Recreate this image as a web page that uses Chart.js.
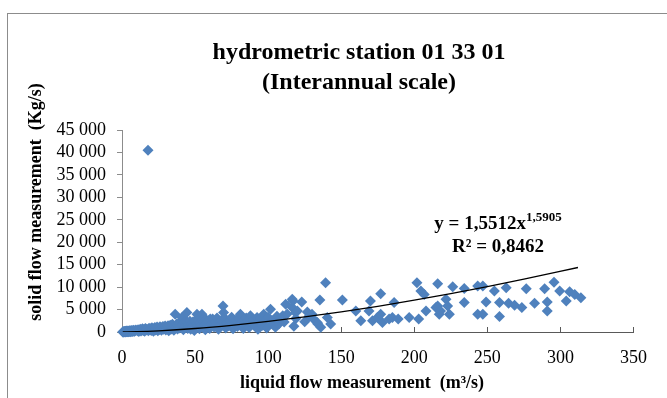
<!DOCTYPE html>
<html>
<head>
<meta charset="utf-8">
<script src="https://cdn.jsdelivr.net/npm/chart.js@4.4.1/dist/chart.umd.min.js"></script>
<style>
  html, body { margin: 0; padding: 0; background: #fff; }
  #wrap { position: relative; width: 667px; height: 398px; overflow: hidden; }
  #frame { position: absolute; left: 7px; top: 13px; width: 720px; height: 430px; border: 1px solid #8c8c8c; }
  canvas { position: absolute; left: 0; top: 0; }
</style>
</head>
<body>
<div id="wrap">
  <div id="frame"></div>
  <canvas id="chart" width="667" height="398"></canvas>
</div>
<script>
const liquidFlow = [
  0.5, 0.8, 1, 1.2, 1.5, 1.8, 2, 2.2, 2.5, 2.8,
  3, 3.2, 3.5, 3.8, 4, 4.3, 4.6, 5, 5.3, 5.6,
  6, 6.3, 6.7, 7, 7.4, 7.8, 8.2, 8.6, 9, 9.5,
  10.5, 11, 11.5, 12, 12.5, 13, 13.5, 14, 14.5, 15,
  15.5, 16, 16.5, 17, 17.8, 18, 18.5, 19, 19.5, 20,
  20.5, 21, 21.5, 22, 22.5, 23, 23.5, 24, 24.5, 25,
  25.5, 26, 26.5, 27, 27.5, 28, 28.5, 29, 29.5, 30,
  30.5, 31, 31.5, 32, 32.5, 33, 33.5, 34, 34.5, 35,
  35.5, 36, 36.4, 37, 37.5, 38, 38.5, 39, 39.5, 40,
  41, 41.5, 42, 42.5, 43, 43.5, 44.4, 44.5, 45, 45.5,
  46, 46.5, 47, 47.5, 48, 48.5, 49, 49.5, 50, 50.5,
  51.3, 51.5, 52, 52.5, 53, 53.5, 54, 54.7, 55, 55.5,
  56, 56.5, 57, 57.5, 58, 58.5, 59, 60, 60.4, 61,
  62, 63, 64, 65, 66, 67, 68, 69.1, 69.5, 70,
  71, 72, 73, 74.1, 75, 76, 77, 78, 79, 80,
  81, 82, 83, 84, 85, 86, 87, 87.9, 89, 90,
  91, 92.4, 93, 94, 95, 96, 97, 98, 99, 100,
  101.6, 102.7, 103, 105, 106, 107.3, 108, 110, 111, 112,
  113, 116.5, 116.5, 117, 117.6, 118.7, 119, 120, 123, 125,
  126.8, 128, 130, 131, 133.6, 134, 135.4, 136, 139.3, 140.5,
  142.8, 150.8, 160, 163.4, 169, 170, 171.4, 174.8, 177, 178.2,
  177, 182.8, 185, 186.2, 189, 196.5, 201.8, 203, 204.5, 206.8,
  208, 214.8, 216, 216, 217.1, 218, 221.7, 222.8, 224, 226.3,
  234.2, 234.2, 243.4, 243.4,
  246.9, 249.1, 246.9, 254.8, 258.3, 258.3, 262.9, 264.5, 268.6, 273.6,
  276.6, 282.3, 289.2, 291, 291, 295.6, 299.5, 304, 306.3, 309.8,
  314
];
const solidFlow = [
  20, 50, 10, 80, 30, 120, 60, 15, 150, 90,
  40, 200, 110, 60, 250, 170, 80, 300, 130, 210,
  40, 350, 180, 260, 90, 400, 220, 140, 330, 460,
  280, 520, 120, 390, 640, 240, 470, 700, 330, 560,
  150, 780, 420, 620, 40500, 260, 850, 510, 700, 350,
  930, 600, 190, 780, 1010, 450, 680, 1100, 300, 860,
  540, 1180, 720, 400, 980, 1250, 610, 820, 1350, 470,
  1050, 720, 1400, 300, 900, 1500, 600, 1150, 1700, 820,
  400, 1300, 3970, 1000, 1800, 650, 1450, 2000, 900, 1200,
  3240, 1650, 500, 2100, 1050, 1500, 4340, 2300, 800, 1750,
  1250, 2400, 600, 1950, 1100, 2200, 1500, 350, 2500, 900,
  3970, 1800, 1300, 2600, 700, 2000, 1600, 3970, 2700, 1000,
  2300, 1400, 500, 2800, 1900, 1200, 2500, 800, 2870, 1700,
  2900, 1100, 2200, 3100, 600, 1500, 2600, 5800, 4340, 3200,
  900, 2000, 1400, 2500, 3300, 700, 1800, 2700, 1200, 3000,
  3970, 2200, 800, 1600, 3100, 2400, 1000, 3600, 1900, 2800,
  1300, 3240, 600, 2100, 3000, 1500, 3970, 2500, 900, 3300,
  5070, 2500, 1800, 1040, 3500, 1760, 2800, 3600, 2200, 6180,
  4000, 5450, 7280, 6900, 1260, 4340, 3000, 4700, 6700, 2300,
  4480, 3500, 3970, 2900, 2140, 1760, 7130, 1040, 10960, 3240,
  1760, 7130, 4700, 2500, 4700, 6900, 2500, 3240, 8540, 2140,
  3970, 2870, 3240, 6550, 2870, 3240, 10960, 2870, 9110, 8380,
  4700, 5450, 10740, 5800, 3970, 4700, 7280, 5800, 3970, 10080,
  9700, 6550, 10220, 3970,
  10220, 6690, 3970, 9110, 6550, 3460, 9860, 6400, 5960, 5450,
  9640, 6400, 9640, 6690, 4700, 11100, 9110, 6900, 8970, 8380,
  7650
];

// Power trend line y = 1,5512x^1,5905, values read at these discharges
const trendQ  = [0.5, 10, 25, 50, 75, 100, 125, 150, 175, 200, 225, 250, 275, 312];
const trendQs = [0.5, 60, 260, 781, 1490, 2354, 3356, 4485, 5732, 7086, 8546, 10106, 11758, 14371];

const xTicks = [0, 50, 100, 150, 200, 250, 300, 350];
const yTicks = [0, 5000, 10000, 15000, 20000, 25000, 30000, 35000, 40000, 45000];

const titleLines = ['hydrometric station 01 33 01', '(Interannual scale)'];
const xTitle = 'liquid flow measurement  (m\u00b3/s)';
const yTitle = 'solid flow measurement  (Kg/s)';
const eqMain = 'y = 1,5512x';
const eqExp = '1,5905';
const eqR2 = 'R\u00b2 = 0,8462';

const serif = '"Liberation Serif", "Times New Roman", serif';

function fmtThousands(v) {
  return String(v).replace(/\B(?=(\d{3})+(?!\d))/g, ' ');
}

// titles and equation drawn on top of the chart
const textPlugin = {
  id: 'texts',
  afterDraw(chart) {
    const ctx = chart.ctx;
    ctx.save();
    ctx.fillStyle = '#000';
    ctx.textAlign = 'center';
    ctx.textBaseline = 'alphabetic';

    ctx.font = 'bold 24px ' + serif;
    ctx.fillText(titleLines[0], 359, 59);
    ctx.fillText(titleLines[1], 359, 89);

    ctx.font = 'bold 18px ' + serif;
    ctx.fillText(xTitle, 362, 388);

    ctx.save();
    ctx.translate(41, 202);
    ctx.rotate(-Math.PI / 2);
    ctx.fillText(yTitle, 0, 0);
    ctx.restore();

    // equation with superscript exponent
    ctx.textAlign = 'left';
    ctx.font = 'bold 19px ' + serif;
    const w1 = ctx.measureText(eqMain).width;
    ctx.font = 'bold 13px ' + serif;
    const w2 = ctx.measureText(eqExp).width;
    const x0 = 498 - (w1 + w2) / 2;
    ctx.font = 'bold 19px ' + serif;
    ctx.fillText(eqMain, x0, 229);
    ctx.font = 'bold 13px ' + serif;
    ctx.fillText(eqExp, x0 + w1, 221);
    ctx.textAlign = 'center';
    ctx.font = 'bold 19px ' + serif;
    ctx.fillText(eqR2, 498, 252);
    ctx.restore();
  }
};

const ctx = document.getElementById('chart').getContext('2d');

new Chart(ctx, {
  type: 'scatter',
  data: {
    datasets: [
      {
        label: 'trend',
        data: trendQ.map((q, i) => ({ x: q, y: trendQs[i] })),
        showLine: true,
        borderColor: '#000',
        borderWidth: 1.3,
        pointRadius: 0,
        cubicInterpolationMode: 'monotone',
        order: 0
      },
      {
        label: 'measurements',
        data: liquidFlow.map((q, i) => ({ x: q, y: solidFlow[i] })),
        pointStyle: 'rectRot',
        pointRadius: 5.5,
        pointBackgroundColor: '#4F81BD',
        pointBorderColor: '#4F81BD',
        pointBorderWidth: 0,
        clip: false,
        order: 1
      }
    ]
  },
  options: {
    responsive: false,
    animation: false,
    layout: { padding: { top: 130, right: 27, left: 0, bottom: 0 } },
    plugins: {
      legend: { display: false },
      tooltip: { enabled: false },
      title: { display: false }
    },
    scales: {
      x: {
        type: 'linear',
        min: 0, max: 350,
        afterFit: s => { s.height = 66; },
        afterBuildTicks: s => { s.ticks = xTicks.map(v => ({ value: v })); },
        grid: { drawOnChartArea: false, tickLength: -5, color: '#595959' },
        border: { color: '#595959', width: 1 },
        ticks: { color: '#000', padding: 20, autoSkip: false, maxRotation: 0, font: { family: serif, size: 18 } }
      },
      y: {
        type: 'linear',
        min: 0, max: 45000,
        afterFit: s => { s.width = 122; },
        afterBuildTicks: s => { s.ticks = yTicks.map(v => ({ value: v })); },
        grid: { drawOnChartArea: false, tickLength: 5, color: '#8c8c8c' },
        border: { color: '#8c8c8c', width: 1 },
        ticks: { color: '#000', padding: 11, autoSkip: false, font: { family: serif, size: 18 }, callback: v => fmtThousands(v) }
      }
    }
  },
  plugins: [textPlugin]
});
</script>
</body>
</html>
